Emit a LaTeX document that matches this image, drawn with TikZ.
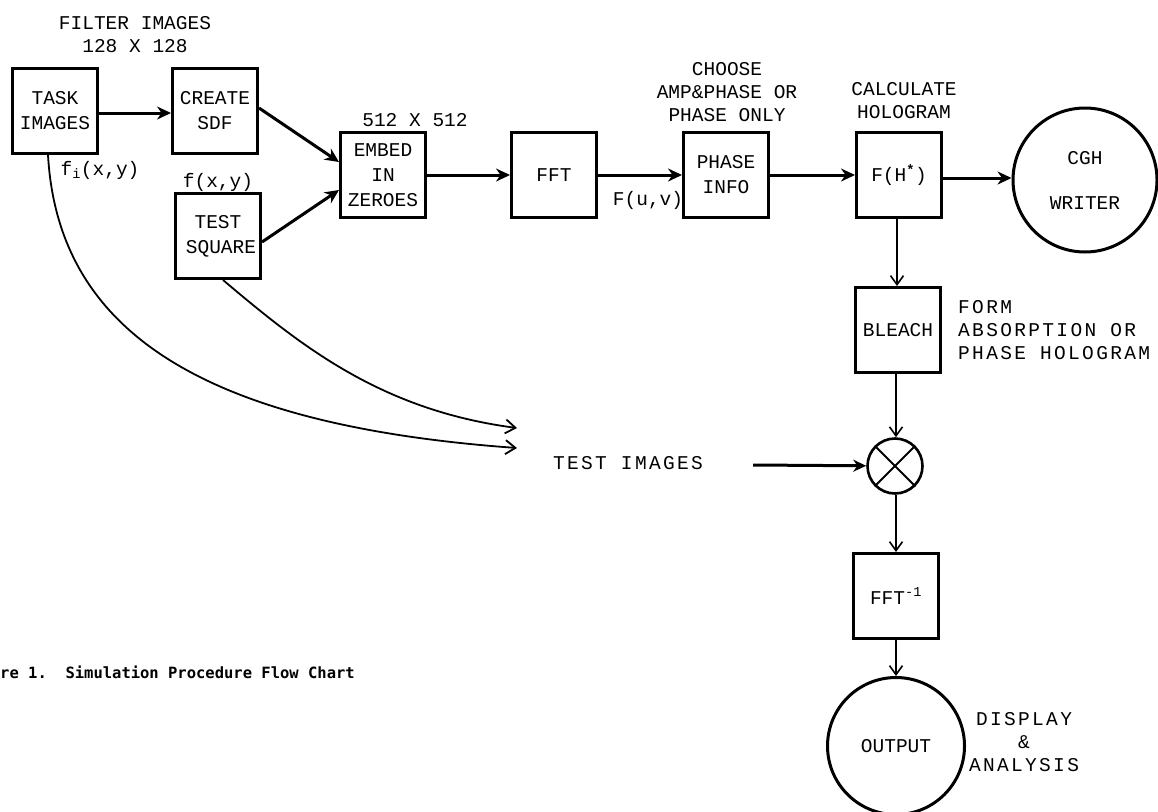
\documentclass[tikz,border=0pt]{standalone}
\usepackage{fontspec}
\setmainfont{Liberation Mono}
\newfontfamily\capfont{DejaVu Sans Mono}
\newfontfamily\widefont[LetterSpace=12]{Liberation Mono}
\usetikzlibrary{arrows.meta}
\begin{document}
\begin{tikzpicture}[x=1pt,y=-1pt,
  every node/.style={font=\fontsize{19.5}{23}\selectfont, inner sep=0pt},
  blockbox/.style={draw, line width=3pt, minimum width=85pt, minimum height=85pt, align=center, text width=80pt},
  roundnode/.style={draw, circle, line width=3pt, align=center},
  thick arrow/.style={line width=3pt, -{Stealth[length=14pt,width=13pt]}},
  thin arrow/.style={line width=1.6pt, -{Straight Barb[length=9pt,width=13pt]}},
  curve arrow/.style={line width=1.8pt, -{Straight Barb[length=10pt,width=14pt]}},
  lbl/.style={align=center},
  widelbl/.style={font=\widefont\fontsize{19.5}{23}\selectfont}
]
\useasboundingbox (0,0) rectangle (1158,811);

% boxes
\node[blockbox] (task) at (55,111) {TASK\\[2pt]IMAGES};
\node[blockbox] (sdf) at (215,111) {CREATE\\[2pt]SDF};
\node[blockbox] (test) at (218,236) {TEST\\[2pt]\hspace*{6pt}SQUARE};
\node[blockbox] (embed) at (383,175) {EMBED\\[2pt]IN\\[2pt]ZEROES};
\node[blockbox] (fft) at (554,175) {FFT\hspace*{30pt}};
\node[blockbox] (phase) at (726,175) {PHASE\\[2pt]INFO};
\node[blockbox] (hol) at (899,175) {F(H\textsuperscript{\textbf{*}})};
\node[roundnode, minimum size=144pt] (cgh) at (1085,180) {CGH\\[22pt]WRITER};
\node[blockbox] (bleach) at (898,330) {BLEACH};
\node[circle, draw, line width=2.6pt, minimum size=55pt] (mult) at (895,466) {};
\draw[line width=2pt] (mult.north east) -- (mult.south west) (mult.north west) -- (mult.south east);
\node[blockbox] (ifft) at (896,596) {FFT\textsuperscript{-1}};
\node[roundnode, minimum size=137pt] (out) at (896,746) {OUTPUT};

% labels
\node[lbl] (filt) at (135,35) {FILTER IMAGES\\128 X 128};
\node (fi) at (100,170) {f\textsubscript{i}(x,y)};
\node (fxy) at (218,182) {f(x,y)};
\node (n512) at (415,120) {512 X 512};
\node (fuv) at (648,200) {F(u,v)};
\node[lbl] (choose) at (727,92) {CHOOSE\\AMP\&PHASE OR\\PHASE ONLY};
\node[lbl] (calc) at (904,101) {CALCULATE\\HOLOGRAM};
\node[widelbl, align=left, anchor=west] (form) at (958,330) {FORM\\ABSORPTION OR\\PHASE HOLOGRAM};
\node[widelbl] (testimg) at (628,463) {TEST IMAGES};
\node[widelbl, lbl] (disp) at (1024,742) {DISPLAY\\\&\\ANALYSIS};
\node[anchor=west, font=\capfont\bfseries\fontsize{15.5}{18}\selectfont] (cap) at (0,672) {re 1.\ \ Simulation Procedure Flow Chart};

% coordinates
\coordinate (t1) at (517,428);
\coordinate (t2) at (517,448);
\coordinate (tstart) at (753,465);

% connectors
\draw[thick arrow] (task.east |- 0,113) -- (sdf.west |- 0,113);
\draw[thick arrow] (sdf.east |- 0,108) -- (embed.west |- 0,162);
\draw[thick arrow] (test.east |- 0,242) -- (embed.west |- 0,190);
\draw[thick arrow] (embed) -- (fft);
\draw[thick arrow] (fft) -- (phase);
\draw[thick arrow] (phase) -- (hol);
\draw[thick arrow] (hol.east |- 0,178) -- (cgh.west |- 0,178);
\draw[thin arrow] (hol.south -| 897,0) -- (bleach.north -| 897,0);
\draw[thin arrow] (bleach.south -| 896,0) -- (mult.north -| 896,0);
\draw[thin arrow] (mult.south -| 896,0) -- (ifft.north -| 896,0);
\draw[thin arrow] (ifft) -- (out);
\draw[line width=3pt, -{Stealth[length=13pt,width=12pt]}] (tstart) -- (mult);
\draw[curve arrow] (task.south west) ++(37,0) .. controls (58,330) and (200,425) .. (t2);
\draw[curve arrow] (test.south) ++(5,0) .. controls (300,345) and (380,410) .. (t1);
\end{tikzpicture}
\end{document}
